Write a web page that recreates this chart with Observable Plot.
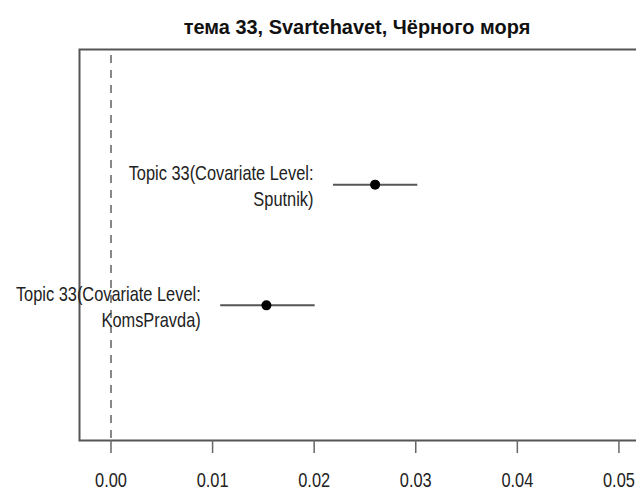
<!DOCTYPE html>
<html>
<head>
<meta charset="utf-8">
<script src="https://cdn.jsdelivr.net/npm/d3@7"></script>
<script src="https://cdn.jsdelivr.net/npm/@observablehq/plot@0.6"></script>
<style>
  html, body { margin: 0; padding: 0; background: #fff; overflow: hidden; width: 636px; height: 490px; }
  #chart svg { display: block; max-width: none !important; }
</style>
</head>
<body>
<div id="chart"></div>
<script>
// Data
const title = "тема 33, Svartehavet, Чёрного моря";
const labels = ["Topic 33(Covariate Level:\nSputnik)", "Topic 33(Covariate Level:\nKomsPravda)"];
const positions = [2, 1];
const means = [0.0260, 0.0153];
const lowers = [0.0219, 0.0108];
const uppers = [0.0302, 0.0201];
const xTicks = [0, 0.01, 0.02, 0.03, 0.04, 0.05];

const rows = labels.map((label, i) => ({
  label, pos: positions[i], mean: means[i], lower: lowers[i], upper: uppers[i]
}));

const font = "'Liberation Sans', Arial, sans-serif";

const chart = Plot.plot({
  width: 660,
  height: 490,
  marginLeft: 79,
  marginRight: 5,
  marginTop: 49,
  marginBottom: 50,
  style: { fontFamily: font, fontSize: "20px", color: "#222", background: "#fff", overflow: "visible", maxWidth: "none" },
  x: { domain: [-0.0031, 0.0536], ticks: xTicks, tickFormat: d3.format(".2f") },
  y: { domain: [-0.12, 3.12], axis: null },
  marks: [
    Plot.frame({ stroke: "#555", strokeWidth: 2 }),
    Plot.axisX({ ticks: xTicks, tickFormat: d3.format(".2f"), tickSize: 13, tickPadding: 19, stroke: "#666", strokeWidth: 1.5, fontSize: 20, fill: "#222", className: "narrow" }),
    Plot.ruleX([0], { stroke: "#888", strokeWidth: 2, strokeDasharray: "8,7", strokeDashoffset: -6 }),
    Plot.ruleY(rows, { y: "pos", x1: "lower", x2: "upper", stroke: "#555", strokeWidth: 2 }),
    Plot.dot(rows, { x: "mean", y: "pos", r: 5, fill: "#000", stroke: "none" }),
    Plot.text(rows, { x: "lower", y: "pos", text: "label", textAnchor: "end", dx: -20, lineHeight: 1.3, fontSize: 20, fill: "#222", className: "narrow" }),
    Plot.text([title], { frameAnchor: "top", dx: -10.5, dy: -16, lineAnchor: "bottom", fontSize: 21, fontWeight: "bold", fill: "#111", className: "ttl" })
  ]
});

// Condense text horizontally, as in the reference (scaled about each anchor point)
d3.select(chart).selectAll("g.narrow text").each(function () {
  const t = this.getAttribute("transform") || "";
  this.setAttribute("transform", t + " scale(0.82,1)");
});
d3.select(chart).selectAll("g.ttl text").each(function () {
  const t = this.getAttribute("transform") || "";
  this.setAttribute("transform", t + " scale(0.95,1)");
});

document.getElementById("chart").appendChild(chart);
</script>
</body>
</html>
